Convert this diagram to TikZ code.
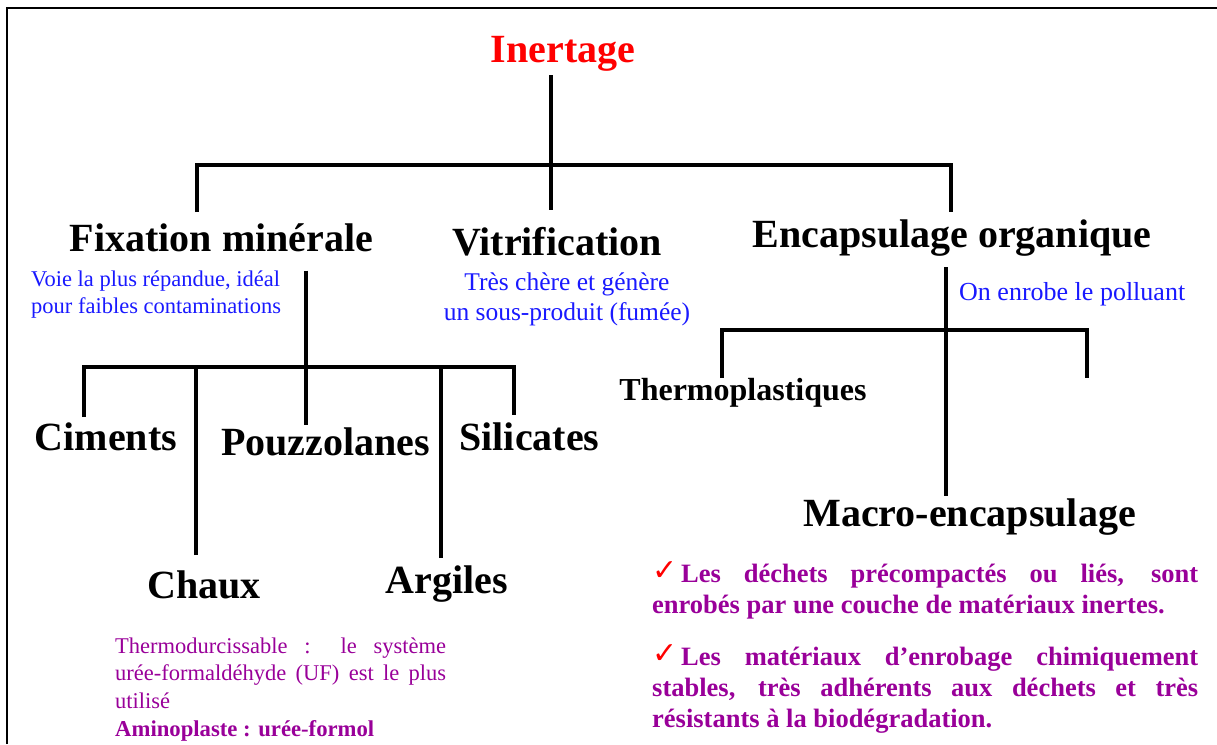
\documentclass[tikz,border=0pt]{standalone}
\usepackage{fontspec}
\setmainfont{Liberation Serif}
\newfontfamily\checkfont{DejaVu Sans}
\setlength{\parindent}{0pt}

\definecolor{headred}{RGB}{255,0,0}
\definecolor{noteblue}{RGB}{25,25,255}
\definecolor{notepurple}{RGB}{153,0,153}

\newcommand{\checktick}{\makebox[29pt][l]{\raisebox{2pt}{\checkfont\fontsize{30}{30}\selectfont\color{red}✓}}}

\begin{document}
\begin{tikzpicture}[
  x=1pt, y=-1pt,
  title/.style = {font=\fontsize{40}{46}\selectfont\bfseries, inner sep=0pt, anchor=base},
  subtitle/.style = {font=\fontsize{32}{38}\selectfont\bfseries, inner sep=0pt, anchor=base},
  note/.style = {text=noteblue, inner sep=0pt},
  detail/.style = {text=notepurple, inner sep=0pt, anchor=north west, align=justify},
  tree/.style = {line width=3.6pt},
  frame/.style = {line width=1.5pt}
]
  \useasboundingbox (0,0) rectangle (1217,744);
  \draw[frame] (6.8,744) -- (6.8,8) -- (1217,8);

  % Nodes
  \node[title, text=headred] (inertage) at (563,62) {Inertage};
  \node[title] (fixation) at (221.5,251) {Fixation minérale};
  \node[title] (vitrif) at (557,255) {Vitrification};
  \node[title] (encaps) at (952,247) {Encapsulage organique};

  \node[title] (ciments) at (106,450) {Ciments};
  \node[title] (pouzz) at (325.5,455) {Pouzzolanes};
  \node[title] (silicates) at (529.5,450) {Silicates};
  \node[title] (chaux) at (204,598) {Chaux};
  \node[title] (argiles) at (447,593) {Argiles};

  \node[subtitle] (thermo) at (743,400) {Thermoplastiques};
  \node[title] (macro) at (969.5,526) {Macro-encapsulage};

  % Notes
  \node[note, anchor=north west, align=left, font=\fontsize{22.5}{27}\selectfont] (voie) at (31,270.6)
    {Voie la plus répandue, idéal\\pour faibles contaminations};
  \node[note, anchor=north, align=center, font=\fontsize{25.5}{30}\selectfont] (chere) at (567,272.4)
    {Très chère et génère\\un sous-produit (fumée)};
  \node[note, anchor=base west, font=\fontsize{26}{30}\selectfont] (enrobe) at (959,300) {On enrobe le polluant};

  \node[detail, text width=331pt, font=\fontsize{22.5}{27.7}\selectfont] (thermodur) at (115,633.6)
    {\strut Thermodurcissable : le système\linebreak urée-formaldéhyde (UF) est le plus\linebreak utilisé\par
     {\fontsize{22.7}{27.7}\selectfont\bfseries Aminoplaste : urée-formol}};

  \node[detail, text width=546pt, font=\fontsize{26.5}{31}\selectfont\bfseries] (bullet1) at (652,560.3)
    {\strut\checktick Les déchets précompactés ou liés, sont\linebreak enrobés par une couche de matériaux inertes.};
  \node[detail, text width=546pt, font=\fontsize{26.5}{31}\selectfont\bfseries] (bullet2) at (652,643.3)
    {\strut\checktick Les matériaux d’enrobage chimiquement\linebreak stables, très adhérents aux déchets et très\linebreak résistants à la biodégradation.};

  % Junctions
  \coordinate (rootjoin) at (551,165);
  \coordinate (fixleg) at (197,212);
  \coordinate (vitleg) at (551,210);
  \coordinate (encleg) at (951,212);

  \coordinate (fixjoin) at (306,367);
  \coordinate (cimleg) at (84,417);
  \coordinate (chauxleg) at (196,555);
  \coordinate (pouzleg) at (306,425);
  \coordinate (argleg) at (441,558);
  \coordinate (silleg) at (514,415);

  \coordinate (encjoin) at (946,330);
  \coordinate (thermoleg) at (722,378);
  \coordinate (rightleg) at (1087,378);

  % Connections
  \draw[tree] ([yshift=-4pt]inertage.south -| rootjoin) -- (rootjoin);
  \draw[tree] (fixleg) |- (rootjoin) -| (encleg);
  \draw[tree] (rootjoin) -- (vitleg);

  % Fixation minerale
  \draw[tree] ([yshift=-19pt]fixation.south -| fixjoin) -- (fixjoin);
  \draw[tree] (cimleg) |- (fixjoin) -| (silleg);
  \draw[tree] (chauxleg) -- (chauxleg |- fixjoin);
  \draw[tree] (fixjoin) -- (pouzleg);
  \draw[tree] (argleg) -- (argleg |- fixjoin);

  % Encapsulage organique
  \draw[tree] ([yshift=-11pt]encaps.south -| encjoin) -- ([yshift=2pt]macro.north -| encjoin);
  \draw[tree] (thermoleg) |- (encjoin) -| (rightleg);

\end{tikzpicture}
\end{document}
